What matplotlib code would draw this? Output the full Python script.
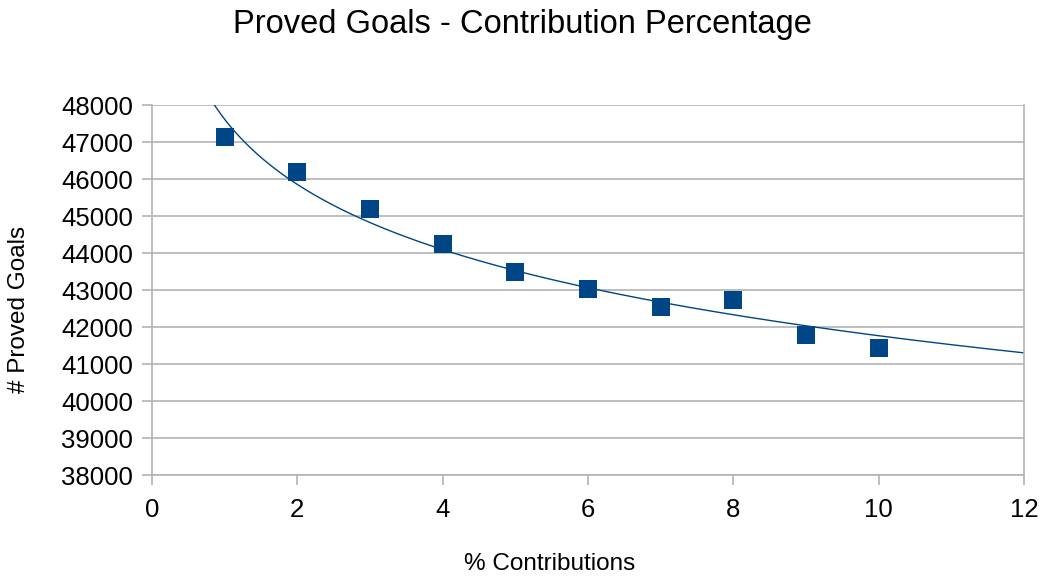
import numpy as np
import matplotlib.pyplot as plt

contributions = [1, 2, 3, 4, 5, 6, 7, 8, 9, 10]
proved_goals = [47140, 46190, 45190, 44240, 43490, 43030, 42540, 42730, 41780, 41440]

x_ticks = [0, 2, 4, 6, 8, 10, 12]
y_ticks = [38000, 39000, 40000, 41000, 42000, 43000, 44000, 45000, 46000, 47000, 48000]

BLUE = "#004586"
GRID = "#b3b3b3"


def main():
    plt.rcParams["font.family"] = ["Liberation Sans", "DejaVu Sans"]
    fig = plt.figure(figsize=(10.46, 5.78), dpi=100)
    ax = fig.add_axes([0.1453, 0.1782, 0.8337, 0.6401])

    # logarithmic trend line, y = a + b*ln(x)
    x = np.array(contributions, dtype=float)
    y = np.array(proved_goals, dtype=float)
    b, a = np.polyfit(np.log(x), y, 1)
    xs = np.linspace(0.5, 12, 400)
    ax.plot(xs, a + b * np.log(xs), color=BLUE, lw=1.0, zorder=2)

    ax.scatter(x, y, marker="s", s=13.5 ** 2, color=BLUE, zorder=3, linewidths=0)

    ax.set_xlim(0, 12)
    ax.set_ylim(38000, 48000)
    ax.set_xticks(x_ticks)
    ax.set_yticks(y_ticks)
    ax.yaxis.grid(True, color=GRID, lw=1.2)
    ax.set_axisbelow(True)
    for side in ["left", "right", "bottom"]:
        ax.spines[side].set_color(GRID)
        ax.spines[side].set_linewidth(1.2)
    ax.spines["top"].set_visible(False)
    ax.tick_params(axis="both", direction="out", length=7, width=1.2, color=GRID,
                   labelsize=18.5)
    ax.tick_params(axis="x", pad=9.5)
    ax.tick_params(axis="y", pad=6.5)

    fig.text(0.525, 0.0138, "% Contributions", ha="center", va="baseline", fontsize=17.5)
    fig.text(0.018, 0.4654, "# Proved Goals", ha="center", va="center", rotation=90,
             fontsize=17.5)
    fig.text(0.4995, 0.958, "Proved Goals - Contribution Percentage", ha="center",
             va="center", fontsize=23.5)

    fig.savefig("out.png", dpi=100)


if __name__ == "__main__":
    main()
